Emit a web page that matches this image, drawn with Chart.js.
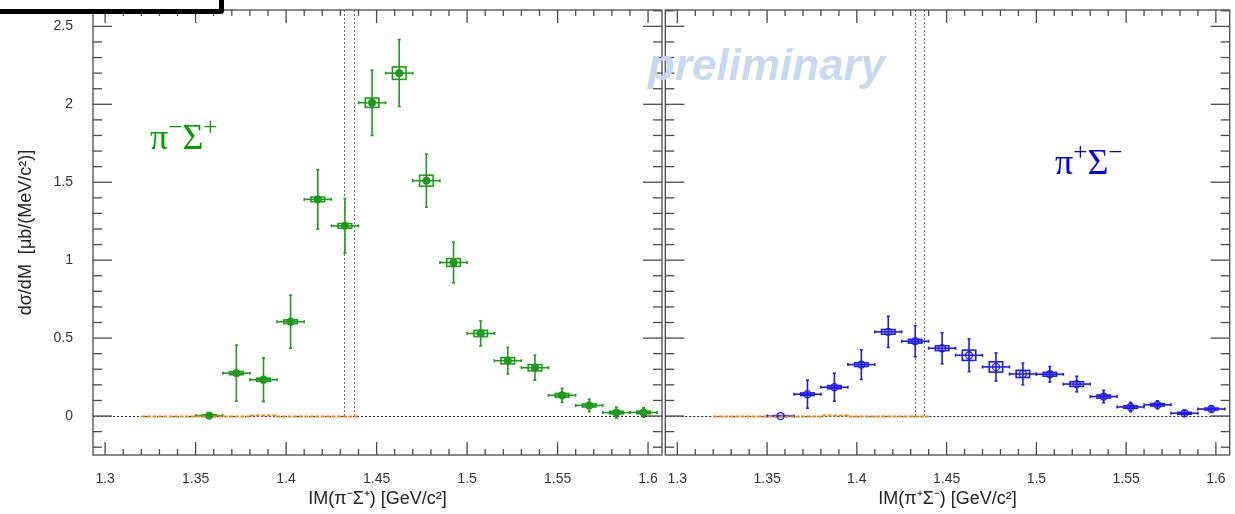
<!DOCTYPE html>
<html>
<head>
<meta charset="utf-8">
<script src="https://cdn.jsdelivr.net/npm/chart.js@4.4.1/dist/chart.umd.min.js"></script>
<style>
  body { margin: 0; background: #fff; width: 1235px; height: 514px; overflow: hidden; position: relative; }
  canvas { position: absolute; top: 0; }
  #left { left: 0; }
  #right { left: 660px; }
  .lbl { position: absolute; font-family: 'Liberation Serif', 'Times New Roman', serif; font-size: 36px; line-height: 36px; white-space: nowrap; }
  .lbl span { font-size: 0.7em; vertical-align: 0.55em; }
  #lblLeft { left: 150px; top: 109px; color: #00a000; }
  #lblRight { left: 1055px; top: 134px; color: #0000ff; }
  #prelim { position: absolute; left: 648px; top: 43px; font: italic bold 44px/44px 'Liberation Sans', Arial, sans-serif; color: #c6d9f1; white-space: nowrap; }
  #box { position: absolute; left: -10px; top: -20px; width: 234px; height: 34px; box-sizing: border-box; border: 5px solid #000; border-radius: 3px; }
</style>
</head>
<body>
<canvas id="left" width="668" height="514"></canvas>
<canvas id="right" width="575" height="514"></canvas>
<div id="prelim">preliminary</div>
<div class="lbl" id="lblLeft">π<span>−</span>Σ<span>+</span></div>
<div class="lbl" id="lblRight">π<span>+</span>Σ<span>−</span></div>
<div id="box"></div>
<script>
'use strict';

//data
var binCenters = [1.3575, 1.3725, 1.3875, 1.4025, 1.4175, 1.4325, 1.4475, 1.4625, 1.4775,
  1.4925, 1.5075, 1.5225, 1.5375, 1.5525, 1.5675, 1.5825, 1.5975];
var binHalf = 0.0075;
var thresholds = [1.4322, 1.4375];

var xTickValues = [1.3, 1.35, 1.4, 1.45, 1.5, 1.55, 1.6];
var xTickLabels = ['1.3', '1.35', '1.4', '1.45', '1.5', '1.55', '1.6'];
var yTickValues = [0, 0.5, 1, 1.5, 2, 2.5];
var yTickLabels = ['0', '0.5', '1', '1.5', '2', '2.5'];

var pimSigp = [0.003, 0.275, 0.233, 0.605, 1.39, 1.22, 2.01, 2.2, 1.51, 0.985, 0.53, 0.355, 0.31, 0.133, 0.068, 0.022, 0.023];
var pimSigpStat = [0.006, 0.18, 0.14, 0.17, 0.19, 0.175, 0.21, 0.215, 0.17, 0.13, 0.08, 0.085, 0.08, 0.045, 0.04, 0.035, 0.03];
var pimSigpSyst = [0.005, 0.01, 0.01, 0.012, 0.015, 0.015, 0.03, 0.04, 0.035, 0.025, 0.02, 0.02, 0.02, 0.012, 0.01, 0.008, 0.008];

var pipSigm = [0.0, 0.14, 0.185, 0.33, 0.54, 0.48, 0.435, 0.39, 0.315, 0.27, 0.268, 0.205, 0.125, 0.058, 0.072, 0.018, 0.045];
var pipSigmStat = [0.0, 0.09, 0.09, 0.095, 0.1, 0.1, 0.1, 0.105, 0.09, 0.07, 0.05, 0.05, 0.04, 0.03, 0.025, 0.02, 0.02];
var pipSigmSyst = [0.003, 0.008, 0.01, 0.012, 0.015, 0.012, 0.015, 0.033, 0.033, 0.023, 0.012, 0.015, 0.01, 0.008, 0.008, 0.006, 0.006];

var bgEdges = [1.32, 1.335, 1.35, 1.365, 1.38, 1.395, 1.41, 1.425, 1.44];
var bgValues = [-0.003, -0.003, -0.003, -0.003, 0.004, -0.003, -0.003, -0.003];

var FONT = "'Liberation Sans', Arial, sans-serif";
var GREEN = '#1e9b1e';
var BLUE = '#1c1cf2';
var ORANGE = '#ee8a1a';
var FRAME = '#4a4a4a';

function stepPoints() {
  var pts = [];
  for (var i = 0; i < bgValues.length; i++) {
    pts.push({x: bgEdges[i], y: bgValues[i]});
    pts.push({x: bgEdges[i + 1], y: bgValues[i]});
  }
  return pts;
}

function pointData(vals) {
  return binCenters.map(function(x, i) { return {x: x, y: vals[i]}; });
}

function line(ctx, x1, y1, x2, y2) {
  ctx.beginPath();
  ctx.moveTo(x1, y1);
  ctx.lineTo(x2, y2);
  ctx.stroke();
}

//error bars, syst boxes, reference lines, frame and inner ticks
function panelPlugin(vals, stat, syst, color) {
  return {
    id: 'panel',
    beforeDatasetsDraw: function(chart) {
      var ctx = chart.ctx, xs = chart.scales.x, ys = chart.scales.y, a = chart.chartArea;
      var y0 = ys.getPixelForValue(0);
      ctx.save();
      ctx.lineWidth = 1;
      ctx.setLineDash([2, 2]);
      ctx.strokeStyle = '#222';
      line(ctx, a.left, y0 + 0.5, a.right, y0 + 0.5);
      ctx.strokeStyle = '#6a6a6a';
      thresholds.forEach(function(t) {
        var px = Math.round(xs.getPixelForValue(t)) + 0.5;
        line(ctx, px, y0, px, a.top);
      });
      ctx.setLineDash([]);

      ctx.strokeStyle = color;
      ctx.lineWidth = 1.6;
      for (var i = 0; i < binCenters.length; i++) {
        var px = xs.getPixelForValue(binCenters[i]);
        var pl = xs.getPixelForValue(binCenters[i] - binHalf);
        var pr = xs.getPixelForValue(binCenters[i] + binHalf);
        var py = ys.getPixelForValue(vals[i]);
        var pt = ys.getPixelForValue(vals[i] + stat[i]);
        var pb = ys.getPixelForValue(vals[i] - stat[i]);
        var bl = xs.getPixelForValue(binCenters[i] - binHalf / 2);
        var br = xs.getPixelForValue(binCenters[i] + binHalf / 2);
        var bt = ys.getPixelForValue(vals[i] + syst[i]);
        var bb = ys.getPixelForValue(vals[i] - syst[i]);
        ctx.strokeRect(bl, bt, br - bl, bb - bt);
        line(ctx, pl, py, pr, py);
        line(ctx, pl, py - 1.5, pl, py + 1.5);
        line(ctx, pr, py - 1.5, pr, py + 1.5);
        if (stat[i] > 0) {
          line(ctx, px, pt, px, pb);
          line(ctx, px - 1.5, pt, px + 1.5, pt);
          line(ctx, px - 1.5, pb, px + 1.5, pb);
        }
      }
      ctx.restore();
    },
    afterDraw: function(chart) {
      var ctx = chart.ctx, xs = chart.scales.x, ys = chart.scales.y, a = chart.chartArea;
      ctx.save();
      ctx.strokeStyle = FRAME;
      ctx.lineWidth = 1.3;
      ctx.strokeRect(a.left, a.top, a.right - a.left, a.bottom - a.top);
      var v, p, len;
      for (var k = 130; k <= 160; k++) {
        v = k / 100;
        p = xs.getPixelForValue(v);
        len = (k % 5 === 0) ? 13 : 6;
        line(ctx, p, a.bottom, p, a.bottom - len);
        line(ctx, p, a.top, p, a.top + len);
      }
      for (k = -2; k <= 26; k++) {
        v = k / 10;
        p = ys.getPixelForValue(v);
        len = (k % 5 === 0) ? 19 : 9;
        line(ctx, a.left, p, a.left + len, p);
        line(ctx, a.right, p, a.right - len, p);
      }
      ctx.restore();
    }
  };
}

function xScale(title) {
  return {
    type: 'linear', min: 1.2933, max: 1.6077,
    grid: {display: false, drawTicks: false},
    border: {display: false},
    ticks: {
      autoSkip: false, maxRotation: 0, padding: 16, color: '#333',
      font: {size: 14, family: FONT},
      callback: function(v) {
        var k = xTickValues.indexOf(v);
        return k < 0 ? '' : xTickLabels[k];
      }
    },
    title: {display: true, text: title, color: '#222', font: {size: 18, family: FONT}, padding: {top: 0, bottom: 4}},
    afterBuildTicks: function(s) { s.ticks = xTickValues.map(function(v) { return {value: v}; }); },
    afterFit: function(s) { s.height = 59; s.paddingLeft = 0; s.paddingRight = 0; }
  };
}

function yScale(show) {
  return {
    type: 'linear', min: -0.25, max: 2.605, display: show,
    grid: {display: false, drawTicks: false},
    border: {display: false},
    ticks: {
      padding: 20, color: '#333', font: {size: 14, family: FONT},
      callback: function(v) {
        var k = yTickValues.indexOf(v);
        return k < 0 ? '' : yTickLabels[k];
      }
    },
    title: {display: show, text: 'dσ/dM  [μb/(MeV/c²)]', color: '#222', font: {size: 18, family: FONT}, padding: {top: 15, bottom: 0}},
    afterBuildTicks: function(s) { s.ticks = yTickValues.map(function(v) { return {value: v}; }); },
    afterFit: function(s) { s.width = show ? 93 : 0; s.paddingTop = 0; s.paddingBottom = 0; }
  };
}

function makePanel(id, vals, stat, syst, color, filled, xTitle, showY, padding) {
  return new Chart(document.getElementById(id), {
    type: 'scatter',
    data: {
      datasets: [{
        data: pointData(vals),
        pointRadius: 3.5,
        pointBackgroundColor: filled ? color : 'rgba(0,0,0,0)',
        pointBorderColor: color,
        pointBorderWidth: 1.3
      }, {
        data: stepPoints(),
        showLine: true,
        borderColor: ORANGE,
        borderWidth: 2,
        borderDash: [4, 1.5],
        pointRadius: 0
      }]
    },
    options: {
      responsive: false,
      animation: false,
      layout: {padding: padding},
      plugins: {legend: {display: false}, tooltip: {enabled: false}},
      scales: {x: xScale(xTitle), y: yScale(showY)}
    },
    plugins: [panelPlugin(vals, stat, syst, color)]
  });
}

//pin the frames where they sit in the picture (page px)
function pinArea(chart, offset, left, right) {
  var p = chart.options.layout.padding;
  p.left += left - (chart.chartArea.left + offset);
  p.right += (chart.chartArea.right + offset) - right;
  chart.update();
}

var leftChart = makePanel('left', pimSigp, pimSigpStat, pimSigpSyst, GREEN, true,
  'IM(π⁻Σ⁺) [GeV/c²]', true, {top: 10, right: 6, left: 0, bottom: 0});
var rightChart = makePanel('right', pipSigm, pipSigmStat, pipSigmSyst, BLUE, false,
  'IM(π⁺Σ⁻) [GeV/c²]', false, {top: 10, right: 4, left: 2, bottom: 0});
pinArea(leftChart, 0, 93, 662);
pinArea(rightChart, 660, 662, 1231);
</script>
</body>
</html>
